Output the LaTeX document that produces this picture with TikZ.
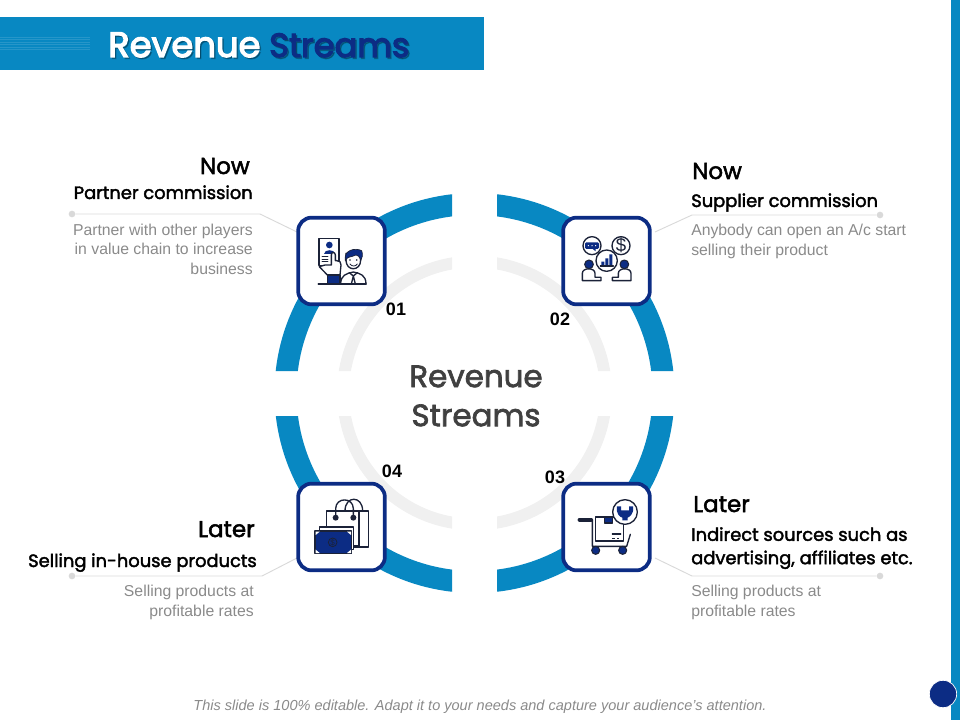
\documentclass[tikz,border=0pt]{standalone}
\usepackage{fontspec}
\setmainfont{Liberation Sans}
\newfontfamily\hd[FakeBold=2.2]{Poppins}
\newfontfamily\hdt[FakeBold=3.5]{Poppins}
\usetikzlibrary{calc}
\definecolor{brandblue}{HTML}{0888C2}
\definecolor{navy}{HTML}{0C2C84}
\definecolor{ink}{HTML}{1B2238}
\definecolor{greytext}{HTML}{8A8A8A}
\definecolor{ringgrey}{HTML}{F0F0F0}
\definecolor{linegrey}{HTML}{D9D9D9}
\definecolor{midtext}{HTML}{404040}
\tikzset{
  iconbox/.style={draw=navy,line width=2.8pt,fill=white,rounded corners=10pt,minimum size=65pt,inner sep=0pt},
  enddot/.style={circle,fill=linegrey,minimum size=5pt,inner sep=0pt},
  leader/.style={draw=linegrey,line width=0.7pt},
  headnow/.style={font=\hd\fontsize{17.2}{20}\selectfont,text=black,inner sep=0pt},
  headsub/.style={font=\hd\fontsize{13.4}{17.5}\selectfont,text=black,inner sep=0pt},
  desc/.style={font=\fontsize{11.83}{14.6}\selectfont,text=greytext,inner sep=0pt},
  numlabel/.style={font=\fontsize{13.5}{16}\selectfont\bfseries,text=black,inner sep=0pt},
  ic/.style={draw=ink,line width=1pt,line join=round,line cap=round},
  icn/.style={draw=ink,fill=navy,line width=0.8pt,line join=round},
  icw/.style={draw=ink,fill=white,line width=1pt,line join=round},
  ttla/.style={anchor=base west,inner sep=0pt,font=\hdt\fontsize{26.5}{30}\selectfont},
  ttlb/.style={anchor=base west,inner sep=0pt,font=\hdt\fontsize{25.2}{30}\selectfont}
}
\begin{document}
\begin{tikzpicture}[x=0.75pt,y=-0.75pt]
\useasboundingbox (0,0) rectangle (960,720);
% frame
\fill[brandblue] (0,17) rectangle (484,70);
\fill[brandblue] (951,0) rectangle (960,720);
\foreach \yy in {37,39.5,42,44.5,47,49.5}{\fill[white,opacity=.12] (0,\yy) rectangle (90,\yy+0.8);}
\node[ttla,text=black,opacity=.25] at (109.5,58.5) {Revenue};
\node[ttlb,text=black,opacity=.25] at (270.5,58.5) {Streams};
\node (t1) [ttla,text=white] at (108,57) {Revenue};
\node (t2) [ttlb,text=navy] at (269,57) {Streams};
% rings
\begin{scope}
\clip (0,0) rectangle (452,371) (497,0) rectangle (960,371) (0,416) rectangle (452,720) (497,416) rectangle (960,720);
\fill[ringgrey,even odd rule] (474.5,393) circle (137.5) (474.5,393) circle (125.5);
\fill[brandblue,even odd rule] (474.5,393) circle (200) (474.5,393) circle (178);
\end{scope}
% boxes and connectors
\node (d1) [enddot] at (72,214) {};
\node (d2) [enddot] at (880,215) {};
\node (d3) [enddot] at (880,576) {};
\node (d4) [enddot] at (72,576) {};
\coordinate (k1) at (260,214);
\coordinate (k2) at (692,215);
\coordinate (k3) at (692,576);
\coordinate (k4) at (262,576);
\coordinate (m1) at (297,232);
\coordinate (m2) at (655,232);
\coordinate (m3) at (655,558);
\coordinate (m4) at (297,558);
\draw[leader] (d1) -- (k1) -- (m1);
\draw[leader] (d2) -- (k2) -- (m2);
\draw[leader] (d3) -- (k3) -- (m3);
\draw[leader] (d4) -- (k4) -- (m4);
\node (b1) [iconbox] at (341.5,261) {};
\node (b2) [iconbox] at (606.5,261) {};
\node (b3) [iconbox] at (606.5,527) {};
\node (b4) [iconbox] at (341.5,527) {};
% icon 1
\begin{scope}[shift={(290,210)},x=0.25pt,y=-0.25pt]
\draw[icw] (87,85) rectangle (147,167);
\fill[navy] (118,105) circle (10);
\fill[navy] (102,131) .. controls (102,116) and (134,116) .. (134,131) -- cycle;
\foreach \yy in {139,147,155}{\draw[ic,line width=.6pt] (96,\yy) -- (114,\yy);}
\draw[icw] (88,170) -- (112,195) -- (150,195) -- (153,165) -- (150,155) -- (140,152) -- (136,152) -- (136,135) .. controls (136,125) and (124,125) .. (124,135) -- (124,165) -- (105,165) -- cycle;
\draw[icn] (112,195) rectangle (150,222);
\draw[icw] (152,222) .. controls (152,195) and (170,190) .. (190,186) .. controls (210,190) and (228,195) .. (228,222) -- cycle;
\draw[icw] (168,150) .. controls (168,185) and (212,185) .. (212,150) -- (212,130) -- (168,130) -- cycle;
\fill[navy,draw=ink,line width=.5pt] (166,152) .. controls (160,120) and (195,112) .. (215,122) .. controls (220,135) and (216,145) .. (212,152) .. controls (208,140) and (205,135) .. (198,135) .. controls (185,142) and (172,138) .. (166,152) -- cycle;
\draw[ic,line width=.6pt] (180,162) .. controls (185,170) and (197,170) .. (202,162);
\fill[ink] (180,150) circle (2.5) (200,150) circle (2.5);
\draw[ic] (178,188) -- (190,198) -- (202,188) (190,198) -- (184,222) (190,198) -- (196,222);
\draw[ic,line width=1.2pt] (85,222) -- (228,222);
\end{scope}
% icon 2
\begin{scope}[shift={(555,210)},x=0.25pt,y=-0.25pt]
\draw[icw] (111,107) circle (27);
\draw[icw] (198,107) circle (27);
\fill[navy,rounded corners=1pt] (90,97) rectangle (132,117);
\fill[navy] (112,116) -- (122,116) -- (122,124) -- cycle;
\foreach \xx in {100,111,122}{\fill[white] (\xx,107) circle (2);}
\node (dollar) [inner sep=0pt,font=\fontsize{14}{14}\selectfont,text=ink] at (198,107) {\$};
\draw[icw] (155,152) circle (32);
\fill[navy] (139,168) rectangle (148,155) (151,168) rectangle (160,145) (163,168) rectangle (172,133);
\draw[ic] (136,168) -- (175,168);
\draw[icw] (82,212) -- (82,190) .. controls (82,172) and (120,172) .. (120,190) -- (120,202) -- (138,202) -- (138,212) -- cycle;
\draw[icw] (228,212) -- (228,190) .. controls (228,172) and (190,172) .. (190,190) -- (190,202) -- (172,202) -- (172,212) -- cycle;
\draw[icn] (102,163) circle (13);
\draw[icn] (208,163) circle (13);
\end{scope}
% icon 3
\begin{scope}[shift={(555,477)},x=0.25pt,y=-0.25pt]
\draw[ink,line width=3.2pt,line cap=round] (74,128) -- (108,128);
\draw[ic] (112,128) -- (112,208) -- (215,208) -- (226,172);
\draw[icw] (122,120) rectangle (205,192);
\draw[icn] (148,122) rectangle (172,138);
\draw[ic] (172,171) -- (197,171);
\draw[ic,dash pattern=on 2pt off 1.5pt,line cap=butt] (172,184) -- (192,184);
\draw[icn] (122,220) circle (12);
\draw[icn] (203,220) circle (12);
\draw[icw] (210,105) circle (37);
\fill[navy] (186,88) -- (198,88) -- (198,100) -- (222,100) -- (222,88) -- (234,88) .. controls (238,112) and (222,120) .. (218,122) -- (218,130) -- (202,130) -- (202,122) .. controls (196,120) and (182,112) .. (186,88) -- cycle;
\end{scope}
% icon 4
\begin{scope}[shift={(290,477)},x=0.25pt,y=-0.25pt]
\draw[ic] (165,102) .. controls (165,55) and (218,55) .. (218,102) -- (218,122);
\draw[icw] (135,102) rectangle (235,210);
\draw[icw] (110,102) rectangle (207,207);
\draw[ic] (137,122) -- (137,95) .. controls (137,60) and (190,60) .. (190,95) -- (190,122);
\fill[ink] (137,122) circle (9) (190,122) circle (9);
\draw[icw] (88,150) rectangle (190,218);
\draw[icn] (75,162) rectangle (185,230);
\fill[white] (77,164) -- (89,164) -- (77,174) -- cycle (183,164) -- (171,164) -- (183,174) -- cycle (77,228) -- (89,228) -- (77,218) -- cycle (183,228) -- (171,228) -- (183,218) -- cycle;
\draw[ink,line width=.6pt] (128,196) circle (13);
\node (coin) [inner sep=0pt,font=\fontsize{6}{6}\selectfont,text=ink] at (128,196) {\$};
\end{scope}
% centre
\node (ctr) [align=center,inner sep=0pt,font=\hd\fontsize{23.2}{29.3}\selectfont,text=midtext] at (476,396) {Revenue\\Streams};
% numbers
\node (n1) [numlabel] at (396,309.5) {01};
\node (n2) [numlabel] at (560,319.5) {02};
\node (n3) [numlabel] at (555,477) {03};
\node (n4) [numlabel] at (392,471) {04};
% text top left
\node (a1) [headnow,anchor=base east] at (250,174) {Now};
\node (a2) [headsub,anchor=base east] at (253,199) {Partner commission};
\node (a3) [desc,anchor=north east,align=right] at (253,223.5) {Partner with other players\\in value chain to increase\\business};
% top right
\node (c1) [headnow,anchor=base west] at (692,179) {Now};
\node (c2) [headsub,anchor=base west] at (691,207) {Supplier commission};
\node (c3) [desc,anchor=north west,align=left] at (691,224) {Anybody can open an A/c start\\selling their product};
% bottom right
\node (e1) [headnow,anchor=base west] at (693,512) {Later};
\node (e2) [headsub,anchor=north west,align=left] at (691,527) {Indirect sources such as\\advertising, affiliates etc.};
\node (e3) [desc,anchor=north west,align=left] at (691,585) {Selling products at\\profitable rates};
% bottom left
\node (f1) [headnow,anchor=base east] at (255,537) {Later};
\node (f2) [headsub,anchor=base east] at (257,567) {Selling in-house products};
\node (f3) [desc,anchor=north east,align=right] at (254,585) {Selling products at\\profitable rates};
% footer
\node (foot) [inner sep=0pt,font=\fontsize{10.9}{12}\selectfont\itshape,text=greytext] at (480,707) {This slide is 100\% editable.  Adapt it to your needs and capture your audience's attention.};
\node (pg) [circle,fill=navy,draw=white,line width=.5pt,minimum size=20.5pt,inner sep=0pt] at (943,694) {};
\end{tikzpicture}
\end{document}
